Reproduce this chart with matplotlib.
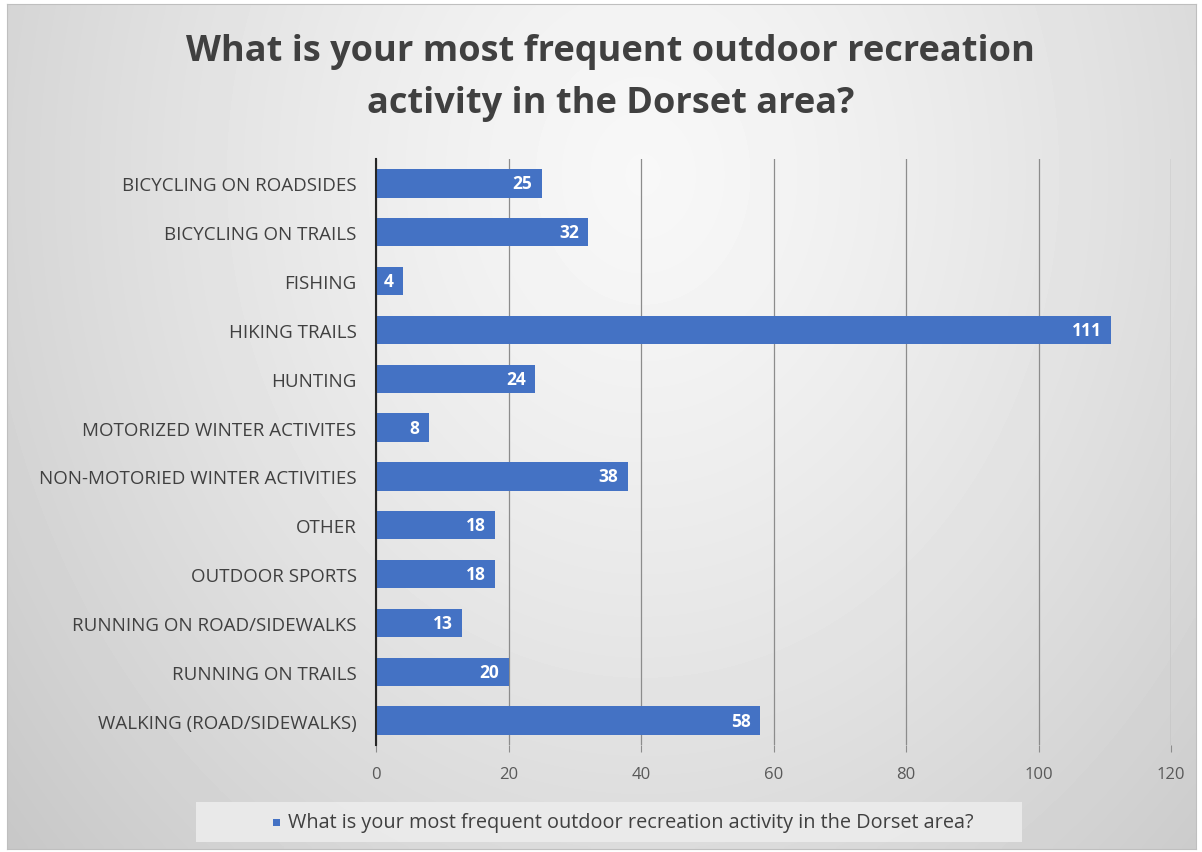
import numpy as np
import matplotlib
matplotlib.use("Agg")
import matplotlib.pyplot as plt
from matplotlib.patches import Rectangle

# chart data
activities = [
    "BICYCLING ON ROADSIDES",
    "BICYCLING ON TRAILS",
    "FISHING",
    "HIKING TRAILS",
    "HUNTING",
    "MOTORIZED WINTER ACTIVITES",
    "NON-MOTORIED WINTER ACTIVITIES",
    "OTHER",
    "OUTDOOR SPORTS",
    "RUNNING ON ROAD/SIDEWALKS",
    "RUNNING ON TRAILS",
    "WALKING (ROAD/SIDEWALKS)",
]
counts = [25, 32, 4, 111, 24, 8, 38, 18, 18, 13, 20, 58]
xticks = [0, 20, 40, 60, 80, 100, 120]
title = "What is your most frequent outdoor recreation activity in the Dorset area?"

plt.rcParams['font.family'] = ['Open Sans', 'DejaVu Sans']

W, H = 1202, 853
fig = plt.figure(figsize=(W / 100, H / 100), dpi=100)
fig.patch.set_facecolor("white")

# radial grey background of the chart area
bg = fig.add_axes([7 / W, 1 - 850 / H, (1196 - 7) / W, (850 - 5) / H])
yy, xx = np.mgrid[0:200, 0:300]
cx, cy = 160, 40
r = np.sqrt(((xx - cx) / 150.0) ** 2 + ((yy - cy) / 170.0) ** 2)
shade = np.clip(0.97 - 0.12 * r ** 1.3, 0.75, 1)
bg.imshow(shade, cmap="gray", vmin=0, vmax=1, aspect="auto",
          extent=[0, 1, 0, 1], origin="upper", interpolation="bilinear")
bg.set_xlim(0, 1)
bg.set_ylim(0, 1)
for s in bg.spines.values():
    s.set_color("#bfbfbf")
    s.set_linewidth(0.8)
bg.set_xticks([])
bg.set_yticks([])

# title
fig.text(0.508, 1 - 52 / H, "What is your most frequent outdoor recreation",
         ha="center", va="center", fontsize=26, fontweight="bold", color="#404040")
fig.text(0.508, 1 - 104 / H, "activity in the Dorset area?",
         ha="center", va="center", fontsize=26, fontweight="bold", color="#404040")

ax = fig.add_axes([376 / W, 1 - 746 / H, (1171 - 376) / W, (746 - 160) / H])
ax.patch.set_alpha(0)
ypos = np.arange(len(activities))
bars = ax.barh(ypos, counts, height=0.58, color="#4472C4", zorder=3)
ax.set_ylim(len(activities) - 0.5, -0.5)
ax.set_xlim(0, 120)
ax.set_xticks(xticks)
ax.set_yticks(ypos)
ax.set_yticklabels(activities, fontsize=13.5, color="#404040")
ax.tick_params(axis="y", length=0, pad=14)
ax.tick_params(axis="x", length=5, color="#8c8c8c", labelsize=12,
               labelcolor="#595959", pad=10)
ax.grid(axis="x", color="#8c8c8c", linewidth=0.9, zorder=0)
for side in ["top", "right", "bottom"]:
    ax.spines[side].set_visible(False)
ax.spines["left"].set_color("#262626")
ax.spines["left"].set_linewidth(1.5)
ax.spines["left"].set_zorder(4)

for b, v in zip(bars, counts):
    ax.text(b.get_width() - 1.4, b.get_y() + b.get_height() / 2, str(v),
            ha="right", va="center", color="white", fontsize=12.5,
            fontweight="bold", zorder=5)

# legend box
lb = Rectangle((196 / W, 1 - 843 / H), (1022 - 196) / W, 40 / H,
               transform=fig.transFigure, facecolor="#ececec",
               edgecolor="none", alpha=0.9, zorder=1)
fig.add_artist(lb)
fig.add_artist(Rectangle((273 / W, 1 - 827 / H), 7 / W, 7 / H,
                         transform=fig.transFigure, facecolor="#4472C4",
                         edgecolor="none", zorder=2))
fig.text(288 / W, 1 - 823 / H, title, ha="left", va="center",
         fontsize=14.3, color="#404040", zorder=3)

fig.savefig("out.png", dpi=100)
